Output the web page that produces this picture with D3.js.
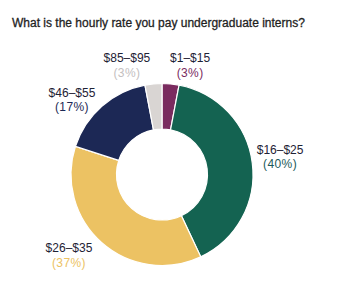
<!DOCTYPE html>
<html>
<head>
<meta charset="utf-8">
<script src="https://cdn.jsdelivr.net/npm/d3@7"></script>
<style>
	body { margin: 0; background: #fff; }
	svg text { font-family: "Liberation Sans", Arial, sans-serif; }
</style>
</head>
<body>
<script>
	const title = 'What is the hourly rate you pay undergraduate interns?';
	const categories = ['$1–$15', '$16–$25', '$26–$35', '$46–$55', '$85–$95'];
	const shares = [3, 40, 37, 17, 3];
	const colors = ['#7a2b5f', '#146351', '#ecc263', '#1c2855', '#d9d5d3'];
	const pctColors = ['#7a2b5f', '#1b5a5a', '#ecc263', '#1c2855', '#c4c0bf'];
	// small slices crowd each other at the top, so labels get nudged by hand
	const nudgeX = [17, 1, -15, -12, -24];
	const nudgeY = [5, -6, -11, 11, 5];

	const width = 337;
	const height = 284;
	const cx = 162, cy = 174.5;
	const outer = 91, inner = 45.5;

	const svg = d3.select('body')
		.append('svg')
		.attr('width', width)
		.attr('height', height);

	svg.append('text')
		.attr('x', 12)
		.attr('y', 27)
		.attr('font-size', 12)
		.attr('fill', '#1f1f1f')
		.attr('stroke', '#1f1f1f')
		.attr('stroke-width', 0.3)
		.text(title);

	const data = categories.map(function(c, i) {
		return { name: c, value: shares[i], i: i };
	});

	const pie = d3.pie()
		.sort(null)
		.value(function(d) { return d.value; });

	const arc = d3.arc()
		.innerRadius(inner)
		.outerRadius(outer);

	const labelArc = d3.arc()
		.innerRadius(118)
		.outerRadius(118);

	const g = svg.append('g')
		.attr('transform', 'translate(' + cx + ' ' + cy + ')');

	const arcs = pie(data);

	g.selectAll('path')
		.data(arcs)
		.enter()
		.append('path')
		.attr('d', arc)
		.attr('fill', function(d) { return colors[d.data.i]; })
		.attr('stroke', '#fff')
		.attr('stroke-width', 1.2);

	const labels = g.selectAll('g.label')
		.data(arcs)
		.enter()
		.append('g')
		.attr('class', 'label')
		.attr('transform', function(d) {
			const c = labelArc.centroid(d);
			return 'translate(' + (c[0] + nudgeX[d.data.i]) + ' ' + (c[1] + nudgeY[d.data.i]) + ')';
		});

	labels.append('text')
		.attr('text-anchor', 'middle')
		.attr('font-size', 12)
		.attr('fill', '#1e2235')
		.text(function(d) { return d.data.name; });

	labels.append('text')
		.attr('text-anchor', 'middle')
		.attr('y', 14.5)
		.attr('font-size', 12)
		.attr('letter-spacing', 0.4)
		.attr('fill', function(d) { return pctColors[d.data.i]; })
		.text(function(d) { return '(' + d.data.value + '%)'; });
</script>
</body>
</html>
